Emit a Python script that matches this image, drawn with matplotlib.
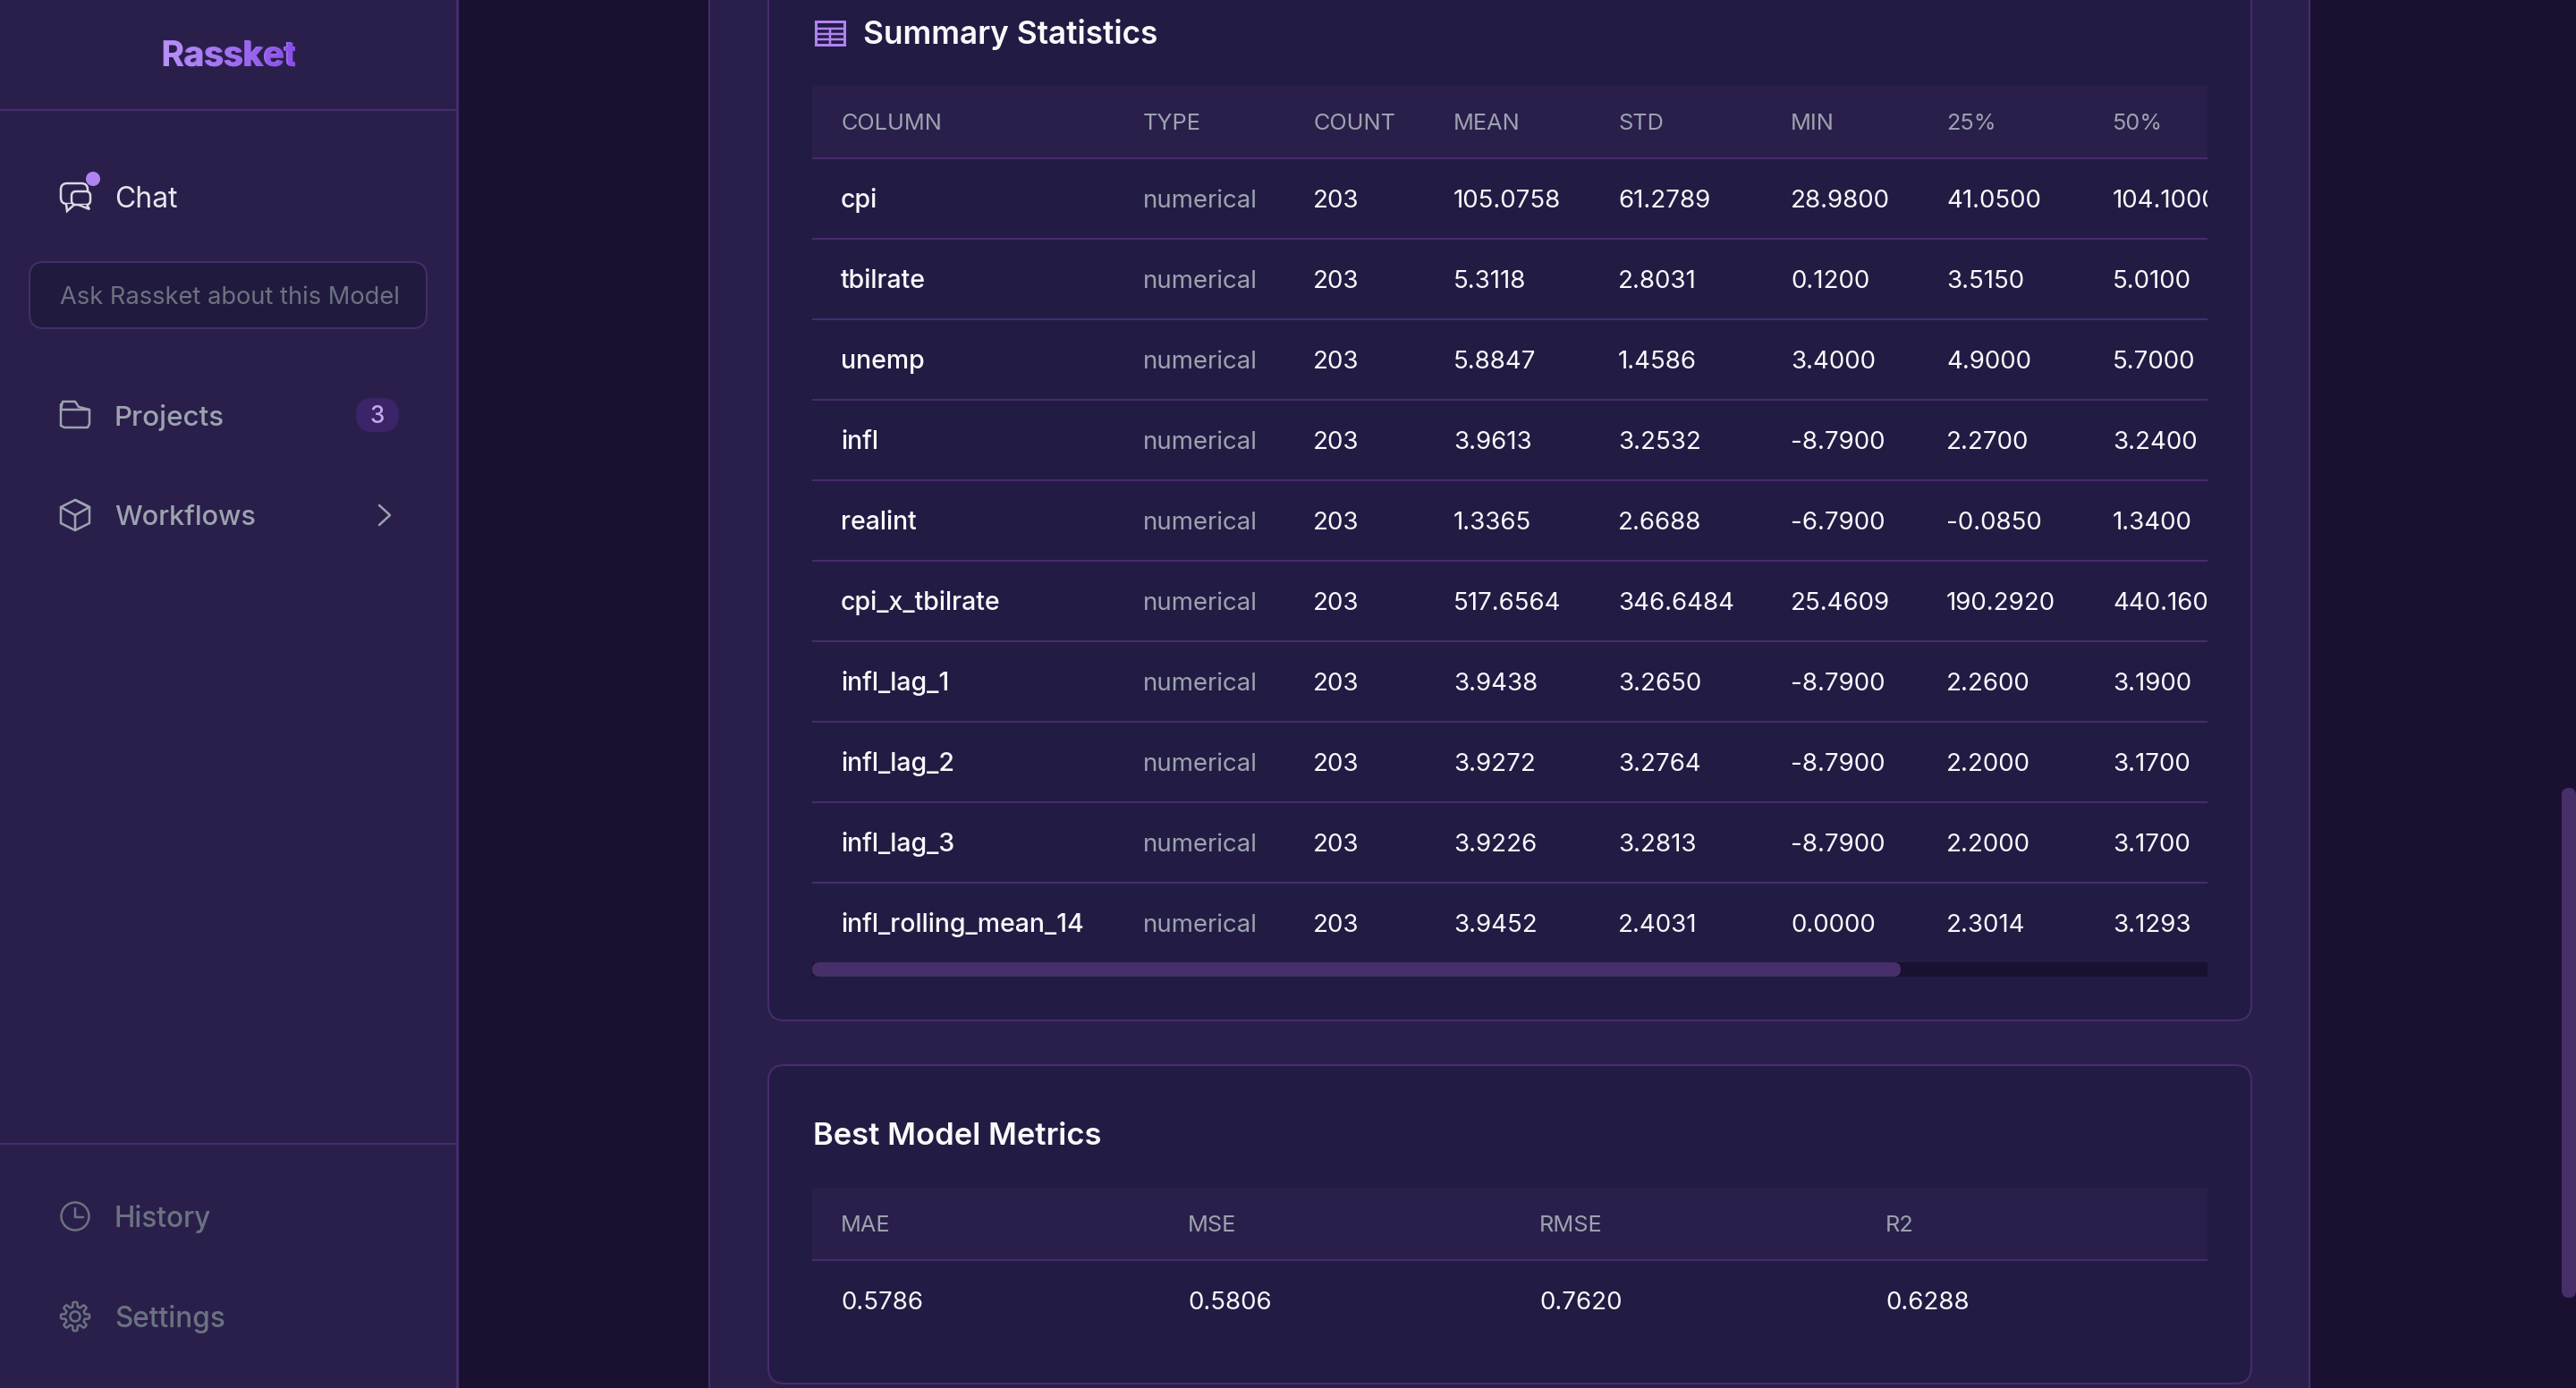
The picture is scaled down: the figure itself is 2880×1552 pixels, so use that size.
import numpy as np
import matplotlib
matplotlib.use("Agg")
import matplotlib.pyplot as plt
from matplotlib.patches import FancyBboxPatch, Rectangle, Circle, Polygon
from matplotlib.textpath import TextPath
from matplotlib.font_manager import FontProperties
from matplotlib.transforms import Affine2D

plt.rcParams['font.family'] = ['Inter', 'DejaVu Sans']

# table contents
summary_header = ["COLUMN", "TYPE", "COUNT", "MEAN", "STD", "MIN", "25%", "50%"]
columns = ["cpi", "tbilrate", "unemp", "infl", "realint", "cpi_x_tbilrate",
           "infl_lag_1", "infl_lag_2", "infl_lag_3", "infl_rolling_mean_14"]
types = ["numerical"] * 10
counts = ["203"] * 10
means = ["105.0758", "5.3118", "5.8847", "3.9613", "1.3365", "517.6564",
         "3.9438", "3.9272", "3.9226", "3.9452"]
stds = ["61.2789", "2.8031", "1.4586", "3.2532", "2.6688", "346.6484",
        "3.2650", "3.2764", "3.2813", "2.4031"]
mins = ["28.9800", "0.1200", "3.4000", "-8.7900", "-6.7900", "25.4609",
        "-8.7900", "-8.7900", "-8.7900", "0.0000"]
q25 = ["41.0500", "3.5150", "4.9000", "2.2700", "-0.0850", "190.2920",
       "2.2600", "2.2000", "2.2000", "2.3014"]
q50 = ["104.1000", "5.0100", "5.7000", "3.2400", "1.3400", "440.1600",
       "3.1900", "3.1700", "3.1700", "3.1293"]
metric_names = ["MAE", "MSE", "RMSE", "R2"]
metric_values = ["0.5786", "0.5806", "0.7620", "0.6288"]

# colours
DARK = "#1a1130"
PANEL = "#2a1f4b"
CARD = "#221c44"
BORDER = "#452d6c"
THUMB = "#472f6a"
WHITE = "#f9fafb"
GREY = "#9ca3af"
DIM = "#6b7280"
PURPLE = "#b084f0"

W, H = 2880, 1552
fig = plt.figure(figsize=(W / 100, H / 100), dpi=100, facecolor=DARK)
ax = fig.add_axes([0, 0, 1, 1])
ax.set_xlim(0, W)
ax.set_ylim(H, 0)
ax.axis("off")


def px(n):
    return n * 0.72


def label(x, y, s, size, color, weight="normal", **kw):
    return ax.text(x, y, s, fontsize=px(size), color=color, fontweight=weight,
                   va="baseline", ha=kw.pop("ha", "left"), **kw)


def box(x0, y0, x1, y1, r, face, edge="none", lw=2, z=1):
    p = FancyBboxPatch((x0, y0), x1 - x0, y1 - y0,
                       boxstyle=f"round,pad=0,rounding_size={r}",
                       fc=face, ec=edge, lw=px(lw), zorder=z)
    ax.add_patch(p)
    return p


def rect(x0, y0, x1, y1, face, z=1):
    ax.add_patch(Rectangle((x0, y0), x1 - x0, y1 - y0, fc=face, ec="none", zorder=z))


def line(xs, ys, color, lw=2.5, z=3):
    ax.plot(xs, ys, color=color, lw=px(lw), zorder=z,
            solid_capstyle="round", solid_joinstyle="round")


# main panel and cards
rect(792, 0, 2583, H, BORDER)
rect(794, 0, 2581, H, PANEL)
box(859, -60, 2517, 1141, 18, CARD, BORDER)
box(859, 1191, 2517, 1547, 18, CARD, BORDER)

# page scrollbar
box(2864, 881, 2880, 1451, 8, THUMB)

# summary table
label(965, 49, "Summary Statistics", 35.2, WHITE, "semibold")
ax.add_patch(Rectangle((912, 24), 32, 26, fc="none", ec=PURPLE, lw=px(3), zorder=3))
line([912, 944], [32, 32], PURPLE)
line([912, 944], [38, 38], PURPLE)
line([912, 944], [44, 44], PURPLE)
line([928, 928], [32, 50], PURPLE)

TABLE_R = 2468
rect(908, 96, TABLE_R, 177, PANEL)
col_x = [940, 1278, 1468, 1625, 1809, 2002, 2176, 2362]
clip = Rectangle((908, 96), TABLE_R - 908, 1000, transform=ax.transData)
for x, name in zip(col_x, summary_header):
    label(x, 145, name, 25.3, GREY)
cols = [types, counts, means, stds, mins, q25, q50]
for i, name in enumerate(columns):
    top = 177 + 90 * i
    rect(908, top - 1, TABLE_R, top + 1, BORDER, z=2)
    base = top + 55
    label(col_x[0], base, name, 28.5, WHITE, "medium")
    label(col_x[1], base, types[i], 27.6, GREY)
    for x, vals in zip(col_x[2:], cols[1:]):
        t = label(x, base, vals[i], 27.7, WHITE)
        t.set_clip_on(True)
        t.set_clip_path(clip)

rect(908, 1076, TABLE_R, 1092, DARK)
box(908, 1076, 2125, 1092, 8, THUMB, z=2)

# metrics table
label(909, 1280, "Best Model Metrics", 34.6, WHITE, "semibold")
rect(908, 1328, TABLE_R, 1409, PANEL)
rect(908, 1408, TABLE_R, 1410, BORDER, z=2)
metric_x = [940, 1328, 1721, 2108]
for x, name, val in zip(metric_x, metric_names, metric_values):
    label(x, 1377, name, 25.3, GREY)
    label(x, 1464, val, 27.7, WHITE)

# sidebar
rect(0, 0, 513, H, BORDER, z=4)
rect(0, 0, 510, H, PANEL, z=4)
rect(0, 122, 510, 124, BORDER, z=5)
rect(0, 1278, 510, 1280, BORDER, z=5)

brand = "Rassket"
BRAND_SIZE = 39
fp = FontProperties(family="Inter", weight="bold", size=px(BRAND_SIZE))
brand_t = label(255, 74, brand, BRAND_SIZE, "#a06cf0", "bold", ha="center", zorder=6)
tp = TextPath((0, 0), brand, prop=fp)
tw = tp.get_extents().width
scale = (100 / 72)
grad = np.linspace(0, 1, 64).reshape(1, -1)
cmap = matplotlib.colors.LinearSegmentedColormap.from_list("brand", ["#b794f4", "#8b4eea"])
im = ax.imshow(grad, cmap=cmap, extent=(181, 330, 90, 30), aspect="auto", zorder=7)
im.set_clip_path(tp, Affine2D().scale(scale, -scale).translate(255 - tw * scale / 2, 74) + ax.transData)
ax.set_xlim(0, W)
ax.set_ylim(H, 0)

SIDE_X = 128
# chat
box(68, 205, 98, 228, 7, "none", "#d9d9e3", 2.5, z=6)
ax.add_patch(Polygon([[74, 228], [75, 236], [84, 228]], closed=False, fc=PANEL, ec="#d9d9e3", lw=px(2.5), zorder=6))
box(80, 214, 101, 229, 5, PANEL, "#d9d9e3", 2.5, z=7)
ax.add_patch(Polygon([[88, 229], [100, 234], [97, 229]], closed=False, fc=PANEL, ec="#d9d9e3", lw=px(2.5), zorder=7))
ax.add_patch(Circle((104, 200), 8, fc=PURPLE, ec="none", zorder=8))
label(SIDE_X, 232, "Chat", 32, "#e5e7eb", zorder=6)

# input
box(33, 293, 477, 367, 16, "#211a3f", BORDER, 2, z=6)
label(67, 340, "Ask Rassket about this Model", 27.3, DIM, zorder=7)

# projects
line([68, 68, 72, 88, 93, 98, 100, 100, 68], [452, 476, 478, 478, 478, 478, 474, 458, 458], GREY, z=6)
line([68, 70, 84, 88, 100], [458, 449, 449, 455, 458], GREY, z=6)
label(SIDE_X, 476, "Projects", 31.3, GREY, "medium", zorder=6)
box(398, 445, 446, 483, 19, "#3b2468", z=6)
label(422, 473, "3", 26, "#c9a6f7", "medium", ha="center", zorder=7)

# workflows
line([84, 100, 100, 84, 68, 68, 84, 100], [559, 567, 585, 593, 585, 567, 559, 567], GREY, z=6)
line([68, 84, 84], [567, 576, 593], GREY, z=6)
line([84, 100], [576, 567], GREY, z=6)
label(SIDE_X, 587, "Workflows", 30.6, GREY, "medium", zorder=6)
line([424, 436, 424], [565, 576, 587], GREY, z=6)

# history
ax.add_patch(Circle((84, 1360), 15.5, fc="none", ec=DIM, lw=px(2.5), zorder=6))
line([84, 84, 93], [1351, 1361, 1361], DIM, z=6)
label(SIDE_X, 1372, "History", 31.5, DIM, "medium", zorder=6)

# settings
ang = np.linspace(0, 2 * np.pi, 240)
rad = 13.5 + 2.6 * np.tanh(3 * np.cos(8 * ang))
line(84 + rad * np.cos(ang), 1472 + rad * np.sin(ang), DIM, z=6)
ax.add_patch(Circle((84, 1472), 5.5, fc="none", ec=DIM, lw=px(2.5), zorder=6))
label(SIDE_X, 1484, "Settings", 31.5, DIM, "medium", zorder=6)

fig.savefig("out.png", dpi=100, facecolor=DARK)
